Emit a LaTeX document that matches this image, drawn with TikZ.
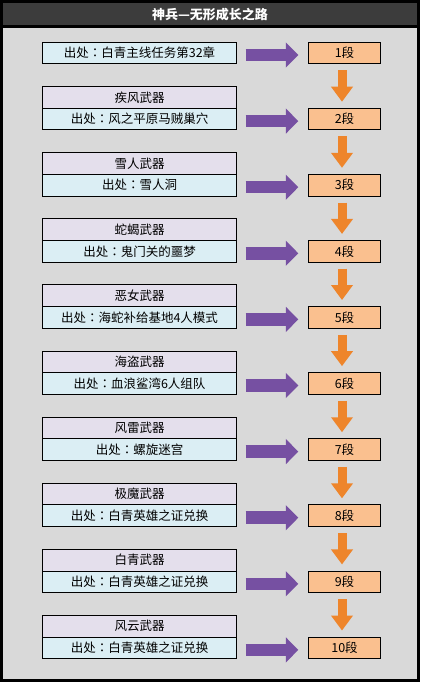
\documentclass[tikz,border=0pt]{standalone}
\usepackage{fontspec}
\setmainfont{Noto Sans CJK SC}
\newfontfamily\tcfont{Noto Sans CJK TC}
\usepackage{xcolor}
\usepackage{tikz}
\usetikzlibrary{positioning}
\usetikzlibrary{arrows.meta}
\definecolor{framegray}{HTML}{3C3C3C}
\definecolor{bodygray}{HTML}{D9D9D9}
\definecolor{wpnfill}{HTML}{E4DFEC}
\definecolor{srcfill}{HTML}{DBEEF4}
\definecolor{lvlfill}{HTML}{FAC08F}
\definecolor{arrowpurple}{HTML}{7650A2}
\definecolor{arroworange}{HTML}{EE852B}
\newcommand{\srcfrom}{出处{\tcfont ：}}
\tikzset{
    boxnode/.style = {align=center, inner sep=0pt, outer sep=0pt, text centered, draw=black, line width=0.9pt, minimum height=21.7pt, font=\fontsize{12.5pt}{14pt}\selectfont},
    src_node/.style = {boxnode, fill=srcfill, minimum width=194.4pt},
    wpn_node/.style = {boxnode, fill=wpnfill, minimum width=194.4pt},
    lvl_node/.style = {boxnode, fill=lvlfill, minimum width=72.4pt},
    purple_arrow/.style = {draw=arrowpurple, line width=12.5pt, -{Triangle[length=12.5pt, width=24.5pt]}, shorten <=9pt, shorten >=10pt},
    orange_arrow/.style = {draw=arroworange, line width=9pt, -{Triangle[length=15pt, width=21pt]}, shorten <=6.5pt, shorten >=6.5pt}
}

\begin{document}
\begin{tikzpicture}[x=1pt, y=-1pt]
    \useasboundingbox (0,0) rectangle (423,684);

    % frame and title bar
    \fill [black] (0,0) rectangle (420,682);
    \fill [framegray] (3,3) rectangle (417,25);
    \fill [bodygray] (3,28) rectangle (417,679);
    \node (title) at (210,14.5) [text=white, font=\fontsize{13pt}{15pt}\selectfont\bfseries] {神兵—无形成长之路};

    % first row has no weapon name
    \node (src1) at (139.5,53) [src_node] {\srcfrom 白青主线任务第32章};
    \node (lvl1) at (344.5,53) [lvl_node] {1段};
    \draw [purple_arrow] ([yshift=-2pt]src1.east) -- ([yshift=-2pt]lvl1.west);

    \foreach \n/\wpn/\src in {
            2/疾风武器/风之平原马贼巢穴,
            3/雪人武器/雪人洞,
            4/蛇蝎武器/鬼门关的噩梦,
            5/恶女武器/海蛇补给基地4人模式,
            6/海盗武器/血浪鲨湾6人组队,
            7/风雷武器/螺旋迷宫,
            8/极魔武器/白青英雄之证兑换,
            9/白青武器/白青英雄之证兑换,
            10/风云武器/白青英雄之证兑换}
    {
        \node (src\n) at (139.5,{53+66.1*(\n-1)}) [src_node] {\srcfrom\src};
        \node (wpn\n) [wpn_node, above=0pt of src\n] {\wpn};
        \node (lvl\n) at (344.5,{53+66.1*(\n-1)}) [lvl_node] {{\n}段};
        \draw [purple_arrow] ([yshift=-2pt]src\n.east) -- ([yshift=-2pt]lvl\n.west);
    }

    % level steps
    \foreach \n [evaluate=\n as \m using int(\n+1)] in {1,...,9}
        \draw [orange_arrow] ([xshift=-2.5pt]lvl\n.south) -- ([xshift=-2.5pt]lvl\m.north);
\end{tikzpicture}
\end{document}
